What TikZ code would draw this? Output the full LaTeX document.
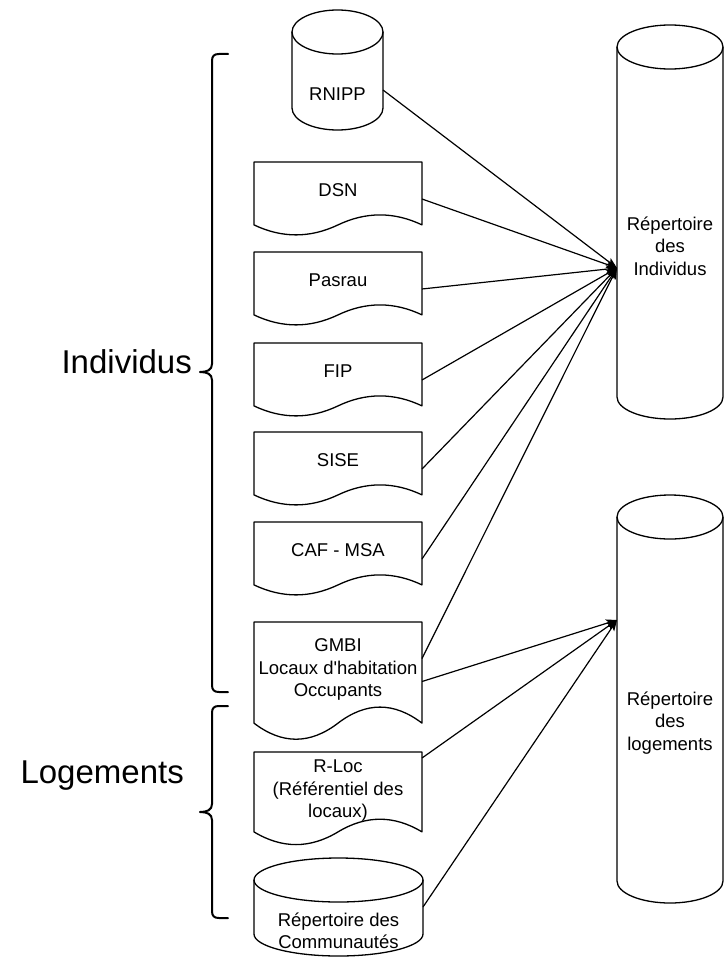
\documentclass[tikz,border=0pt]{standalone}
\usepackage{fontspec}
\setmainfont{Liberation Sans}[Ligatures=TeXOff]
\usetikzlibrary{calc,arrows.meta}
\tikzset{
  shp/.style={draw=black, line width=1.3pt, line join=round},
  box/.style={draw=none, inner sep=0pt, outer sep=0pt, rectangle},
  txt/.style={align=center, inner sep=0pt, yshift=-2pt, font=\fontsize{18.5}{22.5}\selectfont},
  lbl/.style={inner sep=0pt, font=\fontsize{33}{39}\selectfont},
  arr/.style={draw=black, line width=1.2pt, -{Stealth[length=11pt,width=8pt,inset=2.5pt]}},
  bracestyle/.style={draw=black, line width=2pt, line cap=round, line join=round}
}
% document shape: name, x, y, w, h, text, extra text options
\newcommand\docshp[7]{%
  \pgfmathsetmacro\dyv{0.3*#5}
  \node[box, minimum width=#4pt, minimum height=#5pt, anchor=north west] (#1) at (#2,#3) {};
  \draw[shp] (#2,#3) -- ({#2+#4},#3) -- ({#2+#4},{#3+#5-\dyv/2})
    .. controls ({#2+5*#4/6},{#3+#5-1.1*\dyv}) and ({#2+2*#4/3},{#3+#5-1.1*\dyv}) .. ({#2+#4/2},{#3+#5-\dyv/2})
    .. controls ({#2+#4/3},{#3+#5+0.1*\dyv}) and ({#2+#4/6},{#3+#5+0.1*\dyv}) .. (#2,{#3+#5-\dyv/2}) -- cycle;
  \node[txt, #7] (#1t) at ({#2+#4/2},{#3+(#5-\dyv)/2}) {#6};
}
% cylinder: name, x, y, w, h, ry, text
\newcommand\cylshp[7]{%
  \pgfmathsetmacro\rxv{#4/2}
  \node[box, minimum width=#4pt, minimum height=#5pt, anchor=north west] (#1) at (#2,#3) {};
  \draw[shp] (#2,{#3+#6}) -- (#2,{#3+#5-#6}) arc[start angle=180, end angle=360, x radius=\rxv pt, y radius=#6pt] -- ({#2+#4},{#3+#6});
  \draw[shp] ({#2+\rxv},{#3+#6}) ellipse[x radius=\rxv pt, y radius=#6pt];
  \node[txt] (#1t) at ({#2+\rxv},{#3+(#5+2*#6)/2}) {#7};
}
\begin{document}
\begin{tikzpicture}[x=1pt, y=-1pt]
\useasboundingbox (0,0) rectangle (724,958);
\fill[white] (0,0) rectangle (724,958);

% sources
\cylshp{rnipp}{292}{10}{91}{120}{22}{RNIPP}
\docshp{dsn}{254}{162}{168}{74}{DSN}{}
\docshp{pasrau}{254}{252}{168}{74}{Pasrau}{}
\docshp{fip}{254}{343}{168}{74}{FIP}{}
\docshp{sise}{254}{432}{168}{74}{SISE}{}
\docshp{caf}{254}{522}{168}{74}{CAF - MSA}{}
\docshp{gmbi}{254}{622}{168}{119}{GMBI\\Locaux d'habitation\\Occupants}{yshift=-4pt}
\docshp{rloc}{254}{752}{168}{94}{R-Loc\\(Référentiel des\\locaux)}{yshift=-4pt}
\cylshp{comm}{254}{858}{169}{98}{22}{Répertoire des\\Communautés}

% targets
\cylshp{repind}{617}{25}{106}{394}{22}{Répertoire\\des\\Individus}
\cylshp{replog}{617}{495}{106}{408}{22}{Répertoire\\des\\logements}

\coordinate (tI) at ($(repind.west)+(0,46)$);
\coordinate (tL) at ($(replog.west)+(0,-79)$);

% connectors
\draw[arr] ($(rnipp.east)+(0,20)$) -- (tI);
\draw[arr] (dsn.east) -- (tI);
\draw[arr] (pasrau.east) -- (tI);
\draw[arr] (fip.east) -- (tI);
\draw[arr] (sise.east) -- (tI);
\draw[arr] (caf.east) -- (tI);
\draw[arr] ($(gmbi.east)+(0,-23)$) -- (tI);
\draw[arr] (gmbi.east) -- (tL);
\draw[arr] ($(rloc.north east)+(0,6)$) -- (tL);
\draw[arr] (comm.east) -- (tL);

% braces
\draw[bracestyle] (228,54) -- (219,54) .. controls (214,54) and (212,56) .. (212,61)
  -- (212,364) .. controls (212,370) and (207,372) .. (200,372)
  .. controls (207,372) and (212,374) .. (212,380)
  -- (212,685) .. controls (212,690) and (214,692) .. (219,692) -- (228,692);
\draw[bracestyle] (228,706) -- (219,706) .. controls (214,706) and (212,708) .. (212,713)
  -- (212,804) .. controls (212,810) and (207,812) .. (200,812)
  .. controls (207,812) and (212,814) .. (212,820)
  -- (212,911) .. controls (212,916) and (214,918) .. (219,918) -- (228,918);

\node[lbl, anchor=east] (lblind) at (192,362) {Individus};
\node[lbl, anchor=east] (lbllog) at (184,776) {Logements};
\end{tikzpicture}
\end{document}
